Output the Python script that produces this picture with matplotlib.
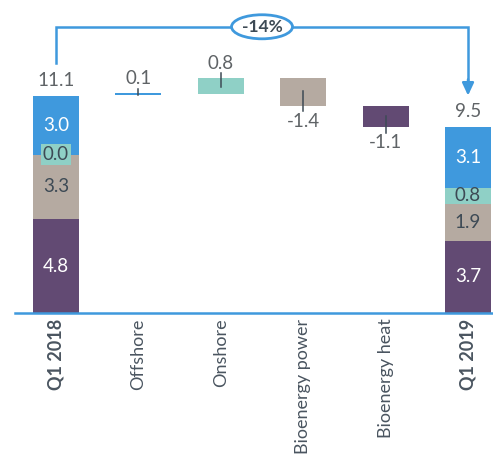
import matplotlib
matplotlib.use("Agg")
import matplotlib.pyplot as plt
from matplotlib.patches import Ellipse
import numpy as np

plt.rcParams['font.family'] = ['Lato', 'DejaVu Sans']

categories = ["Q1 2018", "Offshore", "Onshore", "Bioenergy power", "Bioenergy heat", "Q1 2019"]
segment_names = ["Bioenergy heat", "Bioenergy power", "Onshore", "Offshore"]  # bottom to top
start_values = [4.8, 3.3, 0.0, 3.0]
end_values = [3.7, 1.9, 0.8, 3.1]
changes = [0.1, 0.8, -1.4, -1.1]  # Offshore, Onshore, Bioenergy power, Bioenergy heat
total_start = 11.1
total_end = 9.5
pct_change = "-14%"

colors = {"Offshore": "#3f99dd", "Onshore": "#8fd0c6",
          "Bioenergy power": "#b5aaa1", "Bioenergy heat": "#624a73"}
inner_text = {"Offshore": "white", "Onshore": "#3d4a55",
              "Bioenergy power": "#3d4a55", "Bioenergy heat": "white"}
label_gray = "#5f6366"
blue_line = "#3f99dd"
fs = 13.5

W, H = 493, 455
fig = plt.figure(figsize=(W / 100, H / 100), dpi=100)
ax = fig.add_axes([15 / W, (H - 313) / H, (W - 15) / W, 313 / H])
ax.set_xlim(-0.4976, 5.303)
ax.set_ylim(0, 16.01)
for s in ["top", "right", "left"]:
    ax.spines[s].set_visible(False)
ax.spines["bottom"].set_color(blue_line)
ax.spines["bottom"].set_linewidth(1.8)
ax.set_yticks([])

bw = 0.558
x = np.arange(len(categories))

# stacked totals
for xi, vals in [(0, start_values), (5, end_values)]:
    bottom = 0.0
    for name, v in zip(segment_names, vals):
        ax.bar(xi, v, bw, bottom=bottom, color=colors[name], linewidth=0, zorder=2)
        yc = bottom + v / 2
        if v == 0:
            ax.text(xi, yc, f"{v:.1f}", ha="center", va="center", fontsize=fs,
                    color=inner_text[name], zorder=4,
                    bbox=dict(boxstyle="square,pad=0.1", fc=colors[name], ec="none"))
        else:
            ax.text(xi, yc, f"{v:.1f}", ha="center", va="center", fontsize=fs,
                    color=inner_text[name], zorder=4)
        bottom += v

# total labels
for xi, t in [(0, total_start), (5, total_end)]:
    ax.annotate(f"{t:.1f}", (xi, t), xytext=(0, 11), textcoords="offset points",
                ha="center", va="center", fontsize=fs, color=label_gray)

# change bars
level = total_start
change_names = ["Offshore", "Onshore", "Bioenergy power", "Bioenergy heat"]
for i, (name, c) in enumerate(zip(change_names, changes)):
    xi = i + 1
    lo = level if c >= 0 else level + c
    h = abs(c)
    if h < 0.15:
        ax.bar(xi, 0.1, bw, bottom=level + c - 0.05, color=colors[name], linewidth=0, zorder=2)
        mid = level + c
    else:
        ax.bar(xi, h, bw, bottom=lo, color=colors[name], linewidth=0, zorder=2)
        mid = lo + h / 2
    end = level + c
    sign = 1 if c >= 0 else -1
    ax.plot([xi, xi], [mid - 0.05 * sign, end + sign * 0.28], color="#3d4a55", lw=1.1, zorder=3)
    ax.annotate(f"{c:.1f}", (xi, end), xytext=(0, sign * 11), textcoords="offset points",
                ha="center", va="center", fontsize=fs, color=label_gray)
    level = end

# bracket with arrow
ytop = 14.64
ax.plot([0, 0, 5, 5], [12.79, ytop, ytop, 11.9], color=blue_line, lw=1.8,
        solid_joinstyle="miter", clip_on=False, zorder=3)
ax.annotate("", xy=(5, 11.12), xytext=(5, 11.95),
            arrowprops=dict(arrowstyle="-|>,head_length=0.75,head_width=0.35",
                            color=blue_line, lw=1.8, shrinkA=0, shrinkB=0), zorder=3)
ell = Ellipse((2.5, ytop), 0.74, 1.23, facecolor="white", edgecolor=blue_line, lw=2, zorder=4)
ax.add_patch(ell)
ax.text(2.5, ytop, pct_change, ha="center", va="center", fontsize=12.5, fontweight="bold",
        color="#3d4a55", zorder=5)

ax.set_xticks(x)
ax.set_xticklabels(categories, rotation=90, fontsize=13, color="#4a5560")
ax.tick_params(axis="x", length=0, pad=4)
for lbl in ax.get_xticklabels():
    if lbl.get_text().startswith("Q1"):
        lbl.set_fontweight("bold")

fig.savefig("out.png", dpi=100)
